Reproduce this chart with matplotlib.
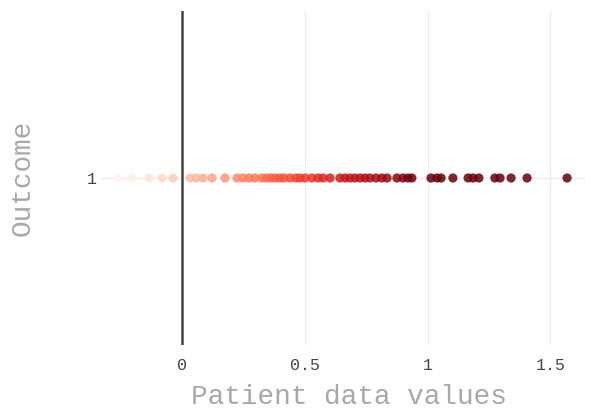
import matplotlib
matplotlib.use("Agg")
import matplotlib.pyplot as plt
from matplotlib.colors import Normalize
import numpy as np

# patient data values, all in outcome group 1
values = [-0.26, -0.204, -0.134, -0.081, -0.037,
          0.033, 0.057, 0.086, 0.122, 0.175,
          0.224, 0.248, 0.273, 0.297, 0.326, 0.346, 0.362,
          0.379, 0.399, 0.415, 0.44, 0.464, 0.48, 0.501,
          0.529, 0.554, 0.574, 0.603,
          0.643, 0.664, 0.684, 0.704, 0.725, 0.745, 0.765, 0.79, 0.814, 0.835,
          0.875, 0.9, 0.92, 0.936,
          1.014, 1.038, 1.055, 1.103, 1.165, 1.185, 1.209, 1.274, 1.295,
          1.34, 1.405, 1.568]
outcome = [1] * len(values)
xticks = [0, 0.5, 1, 1.5]
xtick_labels = ["0", "0.5", "1", "1.5"]

mono = "Liberation Mono"

fig = plt.figure(figsize=(5.9, 4.12), dpi=100)
ax = fig.add_axes([100 / 590, 1 - 345 / 412, 485 / 590, 334 / 412])

ax.set_xlim(-0.334, 1.641)
ax.set_ylim(0.5, 1.5)

# grid
for t in xticks[1:]:
    ax.axvline(t, color="#ececec", lw=1, zorder=0)
ax.axhline(1, color="#ececec", lw=1, zorder=0)
ax.axvline(0, color="#444444", lw=1.8, zorder=1)

norm = Normalize(vmin=min(values), vmax=0.95, clip=True)
ax.scatter(values, outcome, c=values, cmap="Reds", norm=norm, s=44,
           alpha=0.85, linewidths=0, zorder=3)

for s in ax.spines.values():
    s.set_visible(False)

ax.set_xticks(xticks)
ax.set_xticklabels(xtick_labels, fontfamily=mono, fontsize=12, color="#444444")
ax.set_yticks([1])
ax.set_yticklabels(["1"], fontfamily=mono, fontsize=12, color="#444444")
ax.tick_params(axis="y", length=0, pad=2)
ax.tick_params(axis="x", length=0, pad=9)

ax.set_xlabel("Patient data values", fontfamily=mono, fontsize=20,
              color="#a8a8a8", va="center")
ax.xaxis.set_label_coords((349 - 100) / 485, -(397 - 345) / 334)
ax.set_ylabel("Outcome", fontfamily=mono, fontsize=20, color="#a8a8a8",
              va="center")
ax.yaxis.set_label_coords((23 - 100) / 485, 0.5)

fig.savefig("out.png", dpi=100)
